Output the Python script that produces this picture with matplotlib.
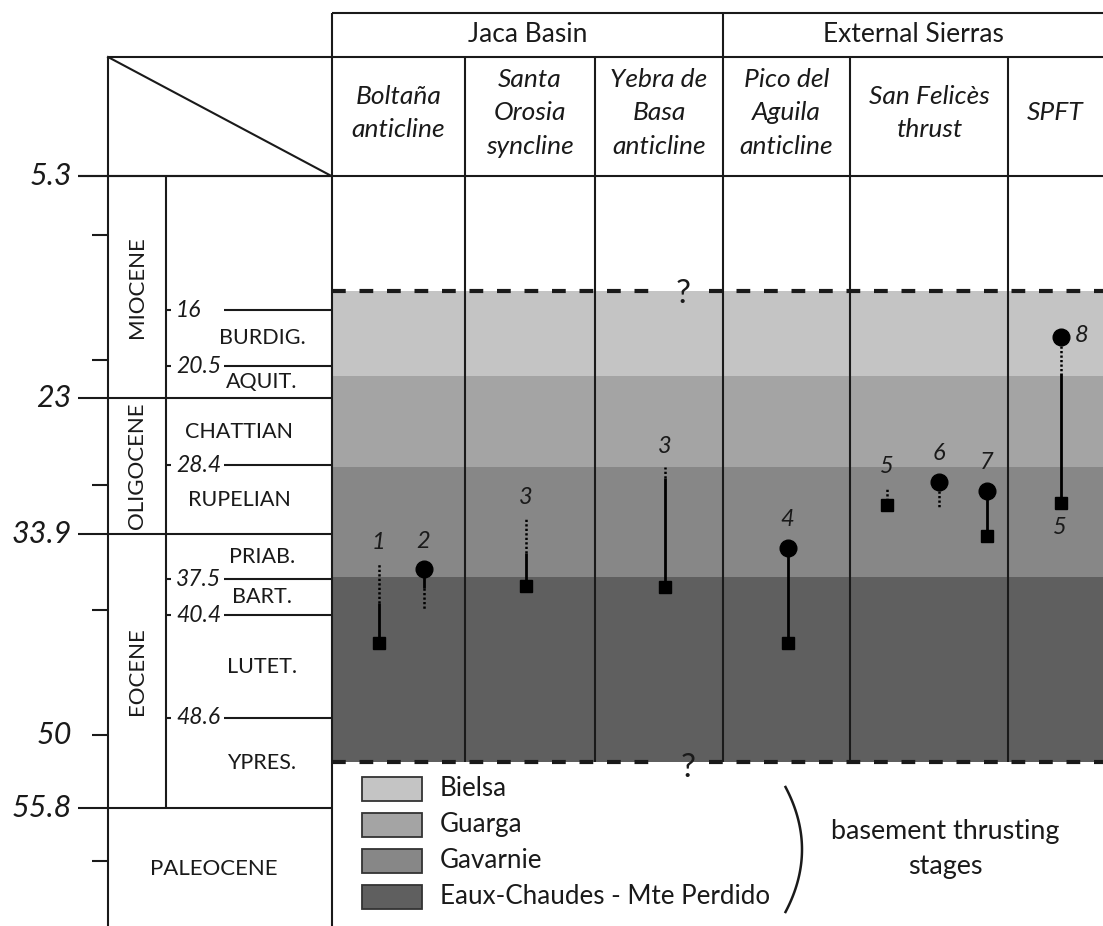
import numpy as np
import matplotlib.pyplot as plt
from matplotlib.patches import Rectangle

plt.rcParams['font.family'] = ['Lato', 'DejaVu Sans']

# ---------------- data (ages in Ma) ----------------
epoch_names = ['MIOCENE', 'OLIGOCENE', 'EOCENE']
epoch_bounds = [5.3, 23, 33.9, 55.8]
paleocene_base = 65.5
age_labels = [5.3, 23, 33.9, 50, 55.8]
decade_ticks = [10, 20, 30, 40, 50, 60]

stage_names = ['BURDIG.', 'AQUIT.', 'CHATTIAN', 'RUPELIAN',
               'PRIAB.', 'BART.', 'LUTET.', 'YPRES.']
stage_bounds = [16, 20.5, 23, 28.4, 33.9, 37.5, 40.4, 48.6, 55.8]
stage_ages_labelled = [16, 20.5, 28.4, 37.5, 40.4, 48.6]

regions = ['Jaca Basin', 'External Sierras']
structures = ['Boltaña\nanticline', 'Santa\nOrosia\nsyncline',
              'Yebra de\nBasa\nanticline', 'Pico del\nAguila\nanticline',
              'San Felicès\nthrust', 'SPFT']
structure_region = [0, 0, 0, 1, 1, 1]

thrust_stages = ['Bielsa', 'Guarga', 'Gavarnie', 'Eaux-Chaudes - Mte Perdido']
thrust_top = [14.5, 21.3, 28.5, 37.3]
thrust_base = [21.3, 28.5, 37.3, 52.1]
thrust_colors = ['#c4c4c4', '#a4a4a4', '#878787', '#5f5f5f']

event_labels = ['1', '2', '3', '3', '4', '5', '6', '7', '8']
event_structure = [0, 0, 1, 2, 3, 4, 4, 4, 5]
circle_age = [None, 36.7, None, None, 35.0, None, 29.7, 30.45, 18.15]
square_age = [42.6, None, 38.05, 38.1, 42.6, 31.6, None, 34.05, 31.4]
solid_span = [(42.6, 39.4), (36.7, 38.2), (38.05, 35.4), (38.1, 29.4),
              (35.0, 42.6), None, None, (30.45, 34.05), (21.0, 31.4)]
dotted_span = [(39.4, 36.2), (38.2, 39.9), (35.4, 32.6), (29.4, 28.5),
               None, (31.6, 30.1), (29.7, 31.7), None, (18.15, 21.0)]
spft_base_label = '5'

# ---------------- layout (figure pixels) ----------------
W, H = 1103, 926
PX0, PX_PER_MA = 110, 12.51


def row(py):
    # pixel row -> age on the (inverted) time axis
    return (py - PX0) / PX_PER_MA


col_edges = [332, 465, 595, 723, 850, 1008, 1103]
event_dx = [-20, 25, -4, 6, 1, -42, 10, 58, 5]
INK = '#1a1a1a'
LW = 1.5


def main():
    fig = plt.figure(figsize=(W / 100, H / 100), dpi=100)
    ax = fig.add_axes([0, 0, 1, 1])
    ax.set_xlim(0, W)
    ax.set_ylim(row(H), row(0))
    ax.axis('off')

    def hline(y, x0, x1, **kw):
        ax.plot([x0, x1], [y, y], color=INK, lw=kw.pop('lw', LW),
                solid_capstyle='butt', **kw)

    def vline(x, y0, y1, **kw):
        ax.plot([x, x], [y0, y1], color=INK, lw=kw.pop('lw', LW),
                solid_capstyle='butt', **kw)

    # thrusting stage bands
    for top, base, c in zip(thrust_top, thrust_base, thrust_colors):
        ax.fill_between([col_edges[0], W], top, base, color=c, lw=0, zorder=0)

    # header frame
    top_row, mid_row = row(13), row(57)
    hline(top_row, col_edges[0], W)
    hline(mid_row, 108, W)
    hline(epoch_bounds[0], 78, W)
    vline(col_edges[0], top_row, row(H))
    vline(col_edges[3], top_row, thrust_base[-1])
    for x in col_edges[1:-1]:
        if x != col_edges[3]:
            vline(x, mid_row, thrust_base[-1])
    ax.plot([108, col_edges[0]], [mid_row, epoch_bounds[0]], color=INK, lw=LW)

    # header text
    region_cols = [(col_edges[0], col_edges[3]), (col_edges[3], W)]
    for name, (x0, x1) in zip(regions, region_cols):
        ax.text((x0 + x1) / 2, row(35), name, ha='center', va='center',
                fontsize=19, color=INK)
    for i, name in enumerate(structures):
        cx = (col_edges[i] + col_edges[i + 1]) / 2
        ax.text(cx, row(113), name, ha='center', va='center', fontsize=19,
                style='italic', color=INK, linespacing=1.53)

    # time scale
    vline(108, mid_row, row(H))
    vline(166, epoch_bounds[0], epoch_bounds[-1])
    for a in [5.3, 23, 33.9, 55.8]:
        hline(a, 78, col_edges[0])
    for a in decade_ticks:
        hline(a, 92, 108)
    for a in age_labels:
        ax.text(72, a, f'{a:g}', ha='right', va='center', fontsize=22,
                style='italic', color=INK)
    for a in stage_ages_labelled:
        hline(a, 166, 171)
        hline(a, 224, col_edges[0])
        ax.text(176, a, f'{a:g}', ha='left', va='center', fontsize=16.5,
                style='italic', color=INK)
    for i, name in enumerate(stage_names):
        mid = (stage_bounds[i] + stage_bounds[i + 1]) / 2
        cx = 239 if len(name) > 7 else 262
        ax.text(cx, mid, name, ha='center', va='center', fontsize=15.5,
                color=INK)
    for i, name in enumerate(epoch_names):
        mid = (epoch_bounds[i] + epoch_bounds[i + 1]) / 2
        ax.text(137, mid, name, ha='center', va='center', fontsize=16,
                rotation=90, color=INK)
    ax.text(214, (epoch_bounds[-1] + paleocene_base) / 2, 'PALEOCENE',
            ha='center', va='center', fontsize=16, color=INK)

    # dashed limits with question marks
    q_x = 685
    for a in [thrust_top[0], thrust_base[-1]]:
        for x0, x1 in [(col_edges[0], q_x - 28), (q_x + 24, W)]:
            ax.plot([x0, x1], [a, a], color=INK, lw=3.0,
                    linestyle=(0, (3.3, 3.3)), zorder=3)
    ax.text(q_x - 2, thrust_top[0] + row(113) - row(110), '?', ha='center',
            va='center', fontsize=24, color=INK)
    ax.text(q_x + 3, thrust_base[-1] + row(116) - row(110), '?', ha='center',
            va='center', fontsize=24, color=INK)

    # events
    for i, lab in enumerate(event_labels):
        s = event_structure[i]
        x = (col_edges[s] + col_edges[s + 1]) / 2 + event_dx[i]
        if solid_span[i]:
            ax.plot([x, x], solid_span[i], color='black', lw=2.0,
                    solid_capstyle='butt', zorder=4)
        if dotted_span[i]:
            ax.plot([x, x], dotted_span[i], color='black', lw=1.8,
                    linestyle=(0, (0.9, 0.9)), zorder=4)
        if square_age[i] is not None:
            ax.plot(x, square_age[i], marker='s', ms=8, color='black',
                    zorder=5)
        if circle_age[i] is not None:
            ax.plot(x, circle_age[i], marker='o', ms=12, color='black',
                    zorder=5)
        ends = [a for span in (solid_span[i], dotted_span[i]) if span
                for a in span]
        ends += [a for a in (square_age[i], circle_age[i]) if a is not None]
        top = min(ends)
        if event_structure[i] == 5:
            ax.annotate(lab, (x, circle_age[i]), xytext=(21, 2),
                        textcoords='offset pixels', ha='center', va='center',
                        fontsize=17, style='italic', color=INK)
            ax.annotate(spft_base_label, (x, square_age[i]), xytext=(-1, -25),
                        textcoords='offset pixels', ha='center', va='center',
                        fontsize=17, style='italic', color=INK)
        else:
            off = 20 + (8 if top == circle_age[i] else 0)
            ax.annotate(lab, (x, top), xytext=(0, off),
                        textcoords='offset pixels', ha='center', va='center',
                        fontsize=17, style='italic', color=INK)

    # legend of basement thrusting stages
    for k, (name, c) in enumerate(zip(thrust_stages, thrust_colors)):
        y_top = row(777 + 36 * k)
        ax.add_patch(Rectangle((362, y_top), 60, row(801) - row(777),
                               facecolor=c, edgecolor='#333333', lw=1.3))
        ax.text(440, row(789 + 36 * k), name, ha='left', va='center',
                fontsize=18.7, color=INK)
    t = np.linspace(-1, 1, 60)
    ax.plot(785.5 + 16.5 * (1 - t ** 2), row(849.5 + 62.5 * t), color=INK,
            lw=1.8)
    ax.text(945, row(849), 'basement thrusting\nstages', ha='center',
            va='center', fontsize=19.4, color=INK, linespacing=1.5)

    fig.savefig('out.png', dpi=100)
    plt.close(fig)


if __name__ == '__main__':
    main()
